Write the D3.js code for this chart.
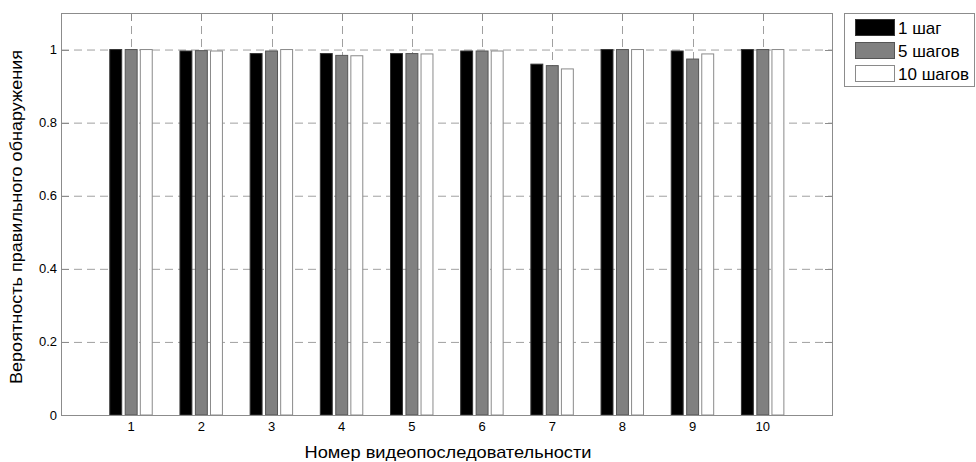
<!DOCTYPE html>
<html>
<head>
<meta charset="utf-8">
<script src="https://cdn.jsdelivr.net/npm/d3@7"></script>
<style>
  html, body { margin: 0; padding: 0; background: #fff; }
  svg { display: block; font-family: "Liberation Sans", Arial, sans-serif; }
</style>
</head>
<body>
<svg id="chart" width="976" height="462"></svg>
<script>
const categories = [1, 2, 3, 4, 5, 6, 7, 8, 9, 10];
const seriesNames = ["1 шаг", "5 шагов", "10 шагов"];
const step1  = [1.000, 0.996, 0.989, 0.989, 0.989, 0.996, 0.960, 1.000, 0.996, 1.000];
const step5  = [1.000, 0.997, 0.996, 0.984, 0.989, 0.996, 0.956, 1.000, 0.974, 1.000];
const step10 = [1.000, 0.996, 1.000, 0.983, 0.988, 0.996, 0.947, 1.000, 0.988, 1.000];
const yTicks = [0, 0.2, 0.4, 0.6, 0.8, 1];
const xLabel = "Номер видеопоследовательности";
const yLabel = "Вероятность правильного обнаружения";

const series = [step1, step5, step10];
const fills = ["#000000", "#808080", "#ffffff"];
const strokes = ["#333333", "#555555", "#8a8a8a"];
const offsets = [-0.22, 0, 0.215];
const barW = 0.17;

const L = 61, R = 833, T = 13, B = 415;
const svg = d3.select("#chart");
const x = d3.scaleLinear().domain([0, 11]).range([L, R]);
const y = d3.scaleLinear().domain([0, 1.1]).range([B, T]);

const axisColor = "#8c8c8c";
const gridColor = "#a0a0a0";

// grid
const grid = svg.append("g");
grid.selectAll("line.gy").data(yTicks.filter(d => d > 0)).join("line")
  .attr("x1", L).attr("x2", R).attr("y1", d => y(d) + 0.5).attr("y2", d => y(d) + 0.5)
  .attr("stroke", gridColor).attr("stroke-width", 1).attr("stroke-dasharray", "8,5");
grid.selectAll("line.gx").data(categories).join("line")
  .attr("y1", T).attr("y2", B).attr("x1", d => Math.round(x(d)) + 0.5).attr("x2", d => Math.round(x(d)) + 0.5)
  .attr("stroke", gridColor).attr("stroke-width", 1).attr("stroke-dasharray", "8,5");

// inward ticks on all sides
const tk = 8;
const ticks = svg.append("g").attr("stroke", axisColor).attr("stroke-width", 1);
yTicks.forEach(v => {
  const yy = Math.round(y(v)) + 0.5;
  ticks.append("line").attr("x1", L).attr("x2", L + tk).attr("y1", yy).attr("y2", yy);
  ticks.append("line").attr("x1", R - tk).attr("x2", R).attr("y1", yy).attr("y2", yy);
});
categories.forEach(c => {
  const xx = Math.round(x(c)) + 0.5;
  ticks.append("line").attr("x1", xx).attr("x2", xx).attr("y1", B - tk).attr("y2", B);
  ticks.append("line").attr("x1", xx).attr("x2", xx).attr("y1", T).attr("y2", T + tk);
});

// bars
series.forEach((vals, si) => {
  svg.append("g").selectAll("rect").data(categories).join("rect")
    .attr("x", (c) => x(c + offsets[si] - barW / 2))
    .attr("width", x(barW) - x(0))
    .attr("y", (c, i) => y(vals[i]))
    .attr("height", (c, i) => y(0) - y(vals[i]))
    .attr("fill", fills[si])
    .attr("stroke", strokes[si])
    .attr("stroke-width", 1);
});

// frame
svg.append("rect").attr("x", L + 0.5).attr("y", T + 0.5).attr("width", R - L - 1).attr("height", B - T)
  .attr("fill", "none").attr("stroke", axisColor).attr("stroke-width", 1);

// tick labels
svg.append("g").selectAll("text").data(yTicks).join("text")
  .attr("x", L - 4).attr("y", d => y(d) + 4.5)
  .attr("text-anchor", "end").attr("font-size", 13).attr("fill", "#000")
  .text(d => d3.format("~g")(d));
svg.append("g").selectAll("text").data(categories).join("text")
  .attr("x", d => x(d)).attr("y", 431)
  .attr("text-anchor", "middle").attr("font-size", 13).attr("fill", "#000")
  .text(d => d);

// axis labels
svg.append("text").attr("x", 448).attr("y", 458).attr("text-anchor", "middle")
  .attr("font-size", 17).attr("fill", "#000")
  .attr("textLength", 287).attr("lengthAdjust", "spacingAndGlyphs").text(xLabel);
svg.append("text").attr("transform", "translate(22,217) rotate(-90)").attr("text-anchor", "middle")
  .attr("font-size", 17).attr("fill", "#000")
  .attr("textLength", 334).attr("lengthAdjust", "spacingAndGlyphs").text(yLabel);

// legend
const lg = svg.append("g");
lg.append("rect").attr("x", 844.5).attr("y", 13.5).attr("width", 130).attr("height", 73)
  .attr("fill", "#fff").attr("stroke", axisColor).attr("stroke-width", 1);
const rowTops = [19, 42, 65];
seriesNames.forEach((name, i) => {
  lg.append("rect").attr("x", 855.5).attr("y", rowTops[i] + 0.5).attr("width", 39).attr("height", 16)
    .attr("fill", fills[i]).attr("stroke", strokes[i]).attr("stroke-width", 1);
  lg.append("text").attr("x", 898).attr("y", rowTops[i] + 14.5)
    .attr("font-size", 17).attr("fill", "#000").text(name);
});
</script>
</body>
</html>
